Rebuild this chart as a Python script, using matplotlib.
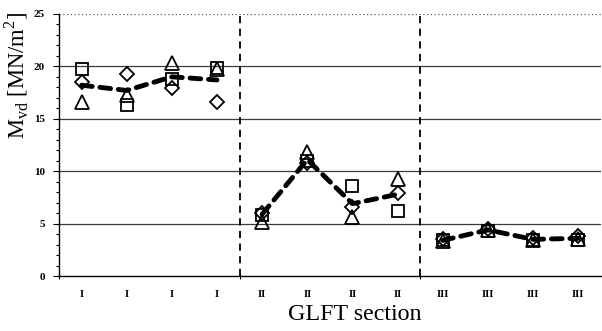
import matplotlib
matplotlib.use("Agg")
import matplotlib.pyplot as plt
import numpy as np

categories = ["I", "I", "I", "I", "II", "II", "II", "II", "III", "III", "III", "III"]
squares   = [19.7, 16.3, 18.8, 19.8, 5.8, 11.0, 8.6, 6.2, 3.4, 4.3, 3.4, 3.4]
diamonds  = [18.5, 19.3, 17.9, 16.6, 6.0, 10.8, 6.6, 7.9, 3.5, 4.5, 3.6, 3.8]
triangles = [16.6, 17.3, 20.3, 19.7, 5.2, 11.8, 5.6, 9.3, 3.3, 4.4, 3.4, 3.5]
mean_vals = [18.2, 17.7, 19.0, 18.7, 5.9, 11.1, 6.9, 7.8, 3.4, 4.4, 3.5, 3.6]
groups = [(0, 4), (4, 8), (8, 12)]
boundaries = [3.5, 7.5]

plt.rcParams['font.family'] = ['Liberation Serif', 'DejaVu Serif']

fig = plt.figure(figsize=(6.02, 3.31), dpi=100)
ax = fig.add_axes([0.098, 0.166, 0.900, 0.792])

x = np.arange(len(categories))

for y in [5, 10, 15, 20]:
    ax.axhline(y, color='#3a3a3a', lw=0.9, zorder=1)
ax.axhline(25, color='#555555', lw=0.9, ls=(0, (1, 2)), zorder=1)

for b in boundaries:
    ax.axvline(b, color='black', lw=1.3, ls=(0, (4, 3)), zorder=2)

mk = dict(ls='none', mfc='none', mec='black', mew=1.3, zorder=3)
ax.plot(x, squares, marker='s', ms=8.5, **mk)
ax.plot(x, diamonds, marker='D', ms=7.5, **mk)
ax.plot(x, triangles, marker='^', ms=9.5, **mk)

for a, b in groups:
    ax.plot(x[a:b], mean_vals[a:b], color='black', lw=3.5, ls=(0, (2.2, 1.6)),
            zorder=4, solid_capstyle='butt', dash_capstyle='round')

ax.set_xlim(-0.5, len(categories) - 0.5)
ax.set_ylim(0, 25)

for s in ['top', 'right']:
    ax.spines[s].set_visible(False)
ax.spines['left'].set_linewidth(1.0)
ax.spines['bottom'].set_linewidth(1.0)

ax.set_yticks(np.arange(0, 26, 5))
ax.set_yticks(np.arange(0, 26, 1), minor=True)
ax.tick_params(axis='y', which='major', length=4, width=0.8, direction='out', labelsize=8, pad=6)
ax.tick_params(axis='y', which='minor', length=2.5, width=0.8, direction='out')
for lab in ax.get_yticklabels():
    lab.set_fontweight('bold')

ax.set_xticks([-0.5] + boundaries)
ax.set_xticklabels([])
ax.set_xticks(x, minor=True)
ax.set_xticklabels(categories, minor=True, fontsize=7.5, fontweight='bold')
ax.tick_params(axis='x', which='major', length=5, width=0.8, direction='inout')
ax.tick_params(axis='x', which='minor', length=0, pad=10)

ax.set_ylabel(r'M$_{\mathregular{vd}}$ [MN/m$^{\mathregular{2}}$]', fontsize=16.3)
ax.yaxis.set_label_coords(-0.052, 0.765)
ax.set_xlabel('GLFT section', fontsize=17.3)
ax.xaxis.set_label_coords(0.546, -0.105)

fig.savefig('out.png', dpi=100)
